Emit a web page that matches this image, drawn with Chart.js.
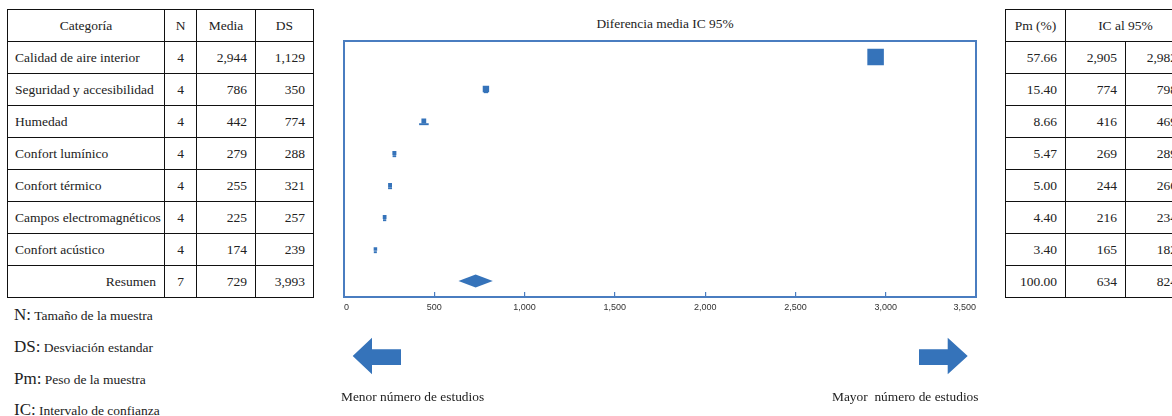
<!DOCTYPE html>
<html>
<head>
<meta charset="utf-8">
<script src="https://cdn.jsdelivr.net/npm/chart.js@4.4.1/dist/chart.umd.min.js"></script>
<style>
html,body{margin:0;padding:0;width:1172px;height:416px;overflow:hidden;background:#fff;
  font-family:"Liberation Serif","Times New Roman",serif;color:#222;}
table{position:absolute;border-collapse:collapse;table-layout:fixed;font-size:13.5px;border:1.5px solid #111;}
td{border:1px solid #111;height:32px;padding:0 8px;box-sizing:border-box;white-space:nowrap;overflow:hidden;}
.l{text-align:left;padding-left:7px;}
.c{text-align:center;}
.r{text-align:right;}
#left{left:7px;top:9px;width:306px;}
#right{left:1005px;top:9px;width:180px;}
#wrap{position:absolute;left:330px;top:0;width:670px;height:320px;}
#title{position:absolute;left:565px;top:16px;width:200px;text-align:center;font-size:13.4px;line-height:15px;}
.leg{position:absolute;left:14px;font-size:13.5px;line-height:20px;white-space:nowrap;}
.leg .big{font-size:17px;}
.cap{position:absolute;font-size:13.4px;line-height:15px;white-space:pre;}
svg{position:absolute;left:0;top:0;}
</style>
</head>
<body>
<table id="left"><colgroup><col style="width:157px"><col style="width:32px"><col style="width:59px"><col style="width:58px"></colgroup><tbody id="lbody"></tbody></table>
<table id="right"><colgroup><col style="width:60px"><col style="width:60px"><col style="width:60px"></colgroup><tbody id="rbody"></tbody></table>
<div id="title">Diferencia media IC 95%</div>
<div id="wrap"><canvas id="c" width="670" height="320"></canvas></div>

<div class="leg" style="top:305px"><span class="big">N:</span> Tamaño de la muestra</div>
<div class="leg" style="top:337px"><span class="big">DS:</span> Desviación estandar</div>
<div class="leg" style="top:369px"><span class="big">Pm:</span> Peso de la muestra</div>
<div class="leg" style="top:400px"><span class="big">IC:</span> Intervalo de confianza</div>

<svg width="1172" height="416">
  <polygon fill="#3573BA" points="352.7,356 372,337.7 372,349.3 401,349.3 401,365 372,365 372,374.3"/>
  <polygon fill="#3573BA" points="919,349.3 947.7,349.3 947.7,337.7 967.7,356 947.7,374.3 947.7,365 919,365"/>
</svg>
<div class="cap" style="left:341px;top:389px">Menor número de estudios</div>
<div class="cap" style="left:832px;top:389px">Mayor  número de estudios</div>

<script>
const categories = ["Calidad de aire interior","Seguridad y accesibilidad","Humedad","Confort lumínico","Confort térmico","Campos electromagnéticos","Confort acústico"];
const summaryLabel = "Resumen";
const nValues = [4,4,4,4,4,4,4];
const nSummary = 7;
const means = [2944,786,442,279,255,225,174];
const meanSummary = 729;
const sdValues = [1129,350,774,288,321,257,239];
const sdSummary = 3993;
const weights = [57.66,15.40,8.66,5.47,5.00,4.40,3.40];
const weightSummary = 100.00;
const ciLow = [2905,774,416,269,244,216,165];
const ciHigh = [2982,798,469,289,266,234,182];
const ciLowSummary = 634;
const ciHighSummary = 824;
const xTicks = [0,500,1000,1500,2000,2500,3000,3500];

const fmt = v => v.toLocaleString('en-US');
const BLUE = '#3573BA';
const FRAME = '#4A7DC0';

// tables
const lb = document.getElementById('lbody');
let h = '<tr><td class="c">Categoría</td><td class="c">N</td><td class="c">Media</td><td class="c">DS</td></tr>';
categories.forEach((c,i)=>{
  h += `<tr><td class="l">${c}</td><td class="c">${nValues[i]}</td><td class="r">${fmt(means[i])}</td><td class="r">${fmt(sdValues[i])}</td></tr>`;
});
h += `<tr><td class="r">${summaryLabel}</td><td class="c">${nSummary}</td><td class="r">${fmt(meanSummary)}</td><td class="r">${fmt(sdSummary)}</td></tr>`;
lb.innerHTML = h;

const rb = document.getElementById('rbody');
let r = '<tr><td class="c">Pm (%)</td><td class="c" colspan="2">IC al 95%</td></tr>';
categories.forEach((c,i)=>{
  r += `<tr><td class="r">${weights[i].toFixed(2)}</td><td class="r">${fmt(ciLow[i])}</td><td class="r">${fmt(ciHigh[i])}</td></tr>`;
});
r += `<tr><td class="r">${weightSummary.toFixed(2)}</td><td class="r">${fmt(ciLowSummary)}</td><td class="r">${fmt(ciHighSummary)}</td></tr>`;
rb.innerHTML = r;

const yLabels = categories.concat([summaryLabel]);

const framePlugin = {
  id:'frame',
  afterDraw(chart){
    const {ctx, chartArea:a} = chart;
    ctx.save();
    ctx.strokeStyle = FRAME; ctx.lineWidth = 2;
    ctx.strokeRect(a.left, a.top, a.right-a.left, a.bottom-a.top);
    ctx.restore();
  }
};
const diamondPlugin = {
  id:'diamond',
  afterDatasetsDraw(chart){
    const {ctx, scales:{x,y}} = chart;
    const yc = y.getPixelForValue(categories.length);
    const x1 = x.getPixelForValue(ciLowSummary), x2 = x.getPixelForValue(ciHighSummary), xm = x.getPixelForValue(meanSummary);
    const hh = 6.5;
    ctx.save(); ctx.fillStyle = BLUE; ctx.beginPath();
    ctx.moveTo(x1,yc); ctx.lineTo(xm,yc-hh); ctx.lineTo(x2,yc); ctx.lineTo(xm,yc+hh); ctx.closePath(); ctx.fill();
    ctx.restore();
  }
};

new Chart(document.getElementById('c'), {
  type:'bar',
  data:{
    labels: yLabels,
    datasets:[
      {type:'bar', label:'_', data: yLabels.map(()=>null), categoryPercentage:0.4, barPercentage:0.3, backgroundColor:'rgba(0,0,0,0)'},
      {type:'bar', label:'IC 95%', data: ciLow.map((l,i)=>[l, ciHigh[i]]).concat([null]), backgroundColor: BLUE,
        categoryPercentage:0.4, barPercentage:0.3, borderSkipped:false, borderWidth:0},
      {type:'line', label:'Media', indexAxis:'y', data: means.concat([null]), showLine:false, pointStyle:'rect',
        pointRadius: c => c.dataIndex < weights.length ? (2.7 + 0.24*weights[c.dataIndex]) / Math.SQRT2 : 0,
        pointBackgroundColor: BLUE, pointBorderWidth:0, borderColor: BLUE}
    ]
  },
  options:{
    indexAxis:'y', responsive:false, animation:false, locale:'en-US', events:[],
    layout:{padding:{left:14, right:24, top:41, bottom:3}},
    plugins:{legend:{display:false}, tooltip:{enabled:false}, title:{display:false}},
    scales:{
      x:{type:'linear', min:xTicks[0], max:xTicks[xTicks.length-1],
        ticks:{stepSize:xTicks[1]-xTicks[0], align:'inner', color:'#333', autoSkip:false, maxRotation:0,
          font:{family:'"Liberation Sans", Arial, sans-serif', size:9}, padding:10},
        grid:{display:true, drawOnChartArea:false, drawTicks:true, tickLength:-5, color:FRAME, lineWidth:1.2},
        border:{display:false},
        afterFit(s){ s.height = 20; }
      },
      y:{display:false}
    }
  },
  plugins:[framePlugin, diamondPlugin]
});
</script>
</body>
</html>
